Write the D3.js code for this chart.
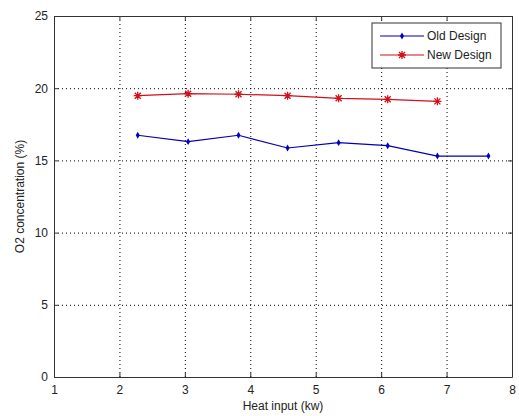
<!DOCTYPE html>
<meta charset="utf-8">
<style>
body { margin: 0; background: #fff; }
text { font-family: "Liberation Sans", Arial, sans-serif; fill: #222; }
.grid line { stroke: #000; stroke-dasharray: 1,3; stroke-width: 1; }
.axis path, .axis line { stroke: #333; }
</style>
<body>
<script src="https://d3js.org/d3.v7.min.js"></script>
<script>
var heatOld = [2.28, 3.05, 3.82, 4.57, 5.35, 6.10, 6.86, 7.64],
    o2Old   = [16.74, 16.30, 16.74, 15.86, 16.23, 16.02, 15.30, 15.30];
var heatNew = [2.28, 3.05, 3.82, 4.57, 5.35, 6.10, 6.86],
    o2New   = [19.48, 19.62, 19.58, 19.48, 19.30, 19.23, 19.09];
var xTicks = [1, 2, 3, 4, 5, 6, 7, 8],
    yTicks = [0, 5, 10, 15, 20, 25];

var w = 519, h = 416;
var margin = {top: 16, right: 7, bottom: 39, left: 54},
    width = w - margin.left - margin.right,
    height = h - margin.top - margin.bottom;

var svg = d3.select("body").append("svg").attr("width", w).attr("height", h);
var g = svg.append("g").attr("transform", "translate(" + margin.left + "," + margin.top + ")");

var x = d3.scaleLinear().domain([1, 8]).range([0, width]),
    y = d3.scaleLinear().domain([0, 25]).range([height, 0]);

// grid
g.append("g").attr("class", "grid")
  .selectAll("line").data(xTicks.slice(1, -1)).enter().append("line")
    .attr("x1", function(d) { return x(d) + 0.5; }).attr("x2", function(d) { return x(d) + 0.5; })
    .attr("y1", 0).attr("y2", height);
g.append("g").attr("class", "grid")
  .selectAll("line").data(yTicks.slice(1, -1)).enter().append("line")
    .attr("y1", function(d) { return y(d) + 0.5; }).attr("y2", function(d) { return y(d) + 0.5; })
    .attr("x1", 0).attr("x2", width);

// axes, ticks inside
g.append("g").attr("class", "axis").attr("transform", "translate(0," + height + ")")
  .call(d3.axisBottom(x).tickValues(xTicks).tickFormat(d3.format("d")).tickSizeInner(-4).tickSizeOuter(0).tickPadding(8))
  .selectAll("text").style("font-size", "12px");
g.append("g").attr("class", "axis").attr("transform", "translate(0,0)")
  .call(d3.axisTop(x).tickValues(xTicks).tickSizeInner(-4).tickSizeOuter(0).tickFormat(""));
g.append("g").attr("class", "axis")
  .call(d3.axisLeft(y).tickValues(yTicks).tickSizeInner(-4).tickSizeOuter(0).tickPadding(6))
  .selectAll("text").style("font-size", "12px");
g.append("g").attr("class", "axis").attr("transform", "translate(" + width + ",0)")
  .call(d3.axisRight(y).tickValues(yTicks).tickSizeInner(-4).tickSizeOuter(0).tickFormat(""));

// labels
svg.append("text").attr("x", margin.left + width / 2).attr("y", 410)
  .attr("text-anchor", "middle").style("font-size", "12px").text("Heat input (kw)");
svg.append("text").attr("transform", "translate(24," + (margin.top + height / 2) + ") rotate(-90)")
  .attr("text-anchor", "middle").style("font-size", "12px").text("O2 concentration (%)");

var line = d3.line().x(function(d) { return x(d[0]); }).y(function(d) { return y(d[1]); });
var oldPts = d3.zip(heatOld, o2Old), newPts = d3.zip(heatNew, o2New);

g.append("path").datum(oldPts).attr("d", line).attr("fill", "none").attr("stroke", "#0000b0").attr("stroke-width", 1.2);
g.selectAll(".dot").data(oldPts).enter().append("path").attr("class", "dot")
  .attr("transform", function(d) { return "translate(" + x(d[0]) + "," + y(d[1]) + ")"; })
  .attr("d", d3.symbol(d3.symbolDiamond, 14)).attr("fill", "#0000c8");

g.append("path").datum(newPts).attr("d", line).attr("fill", "none").attr("stroke", "#d0101a").attr("stroke-width", 1.2);
var star = "M-4,0H4M0,-4V4M-3,-3L3,3M-3,3L3,-3";
g.selectAll(".star").data(newPts).enter().append("path").attr("class", "star")
  .attr("transform", function(d) { return "translate(" + x(d[0]) + "," + y(d[1]) + ")"; })
  .attr("d", star).attr("stroke", "#d0101a").attr("stroke-width", 1.3);

// legend
var lg = svg.append("g").attr("transform", "translate(372,23)");
lg.append("rect").attr("width", 129).attr("height", 45).attr("fill", "#fff").attr("stroke", "#333");
var items = [["Old Design", "#0000b0"], ["New Design", "#d0101a"]];
items.forEach(function(it, i) {
  var yy = 13 + i * 19;
  lg.append("line").attr("x1", 8).attr("x2", 52).attr("y1", yy).attr("y2", yy).attr("stroke", it[1]).attr("stroke-width", 1.2);
  if (i === 0) lg.append("path").attr("transform", "translate(30," + yy + ")").attr("d", d3.symbol(d3.symbolDiamond, 14)).attr("fill", "#0000c8");
  else lg.append("path").attr("transform", "translate(30," + yy + ")").attr("d", star).attr("stroke", it[1]).attr("stroke-width", 1.3);
  lg.append("text").attr("x", 55).attr("y", yy + 4).style("font-size", "12px").text(it[0]);
});
</script>
</body>
